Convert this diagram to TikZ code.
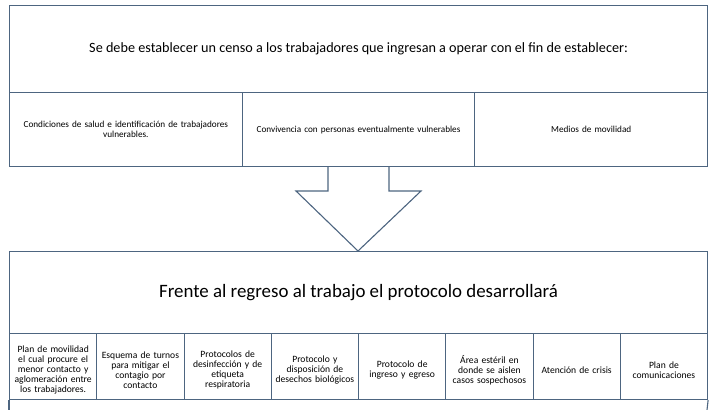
\documentclass[tikz,border=0pt]{standalone}
\usepackage{fontspec}
\setmainfont{Carlito}
\definecolor{edge}{HTML}{4D6580}
\begin{document}
\begin{tikzpicture}[x=1pt,y=-1pt,
  cell/.style={draw=edge,line width=1.1pt,rectangle,inner sep=0pt,anchor=north west,align=center},
  small/.style={font=\fontsize{9.2}{9.5}\selectfont},
  tiny/.style={font=\fontsize{9.6}{10}\selectfont},
  blockarrow/.style={draw=edge,line width=1.1pt,line join=miter}]
\useasboundingbox (0,0) rectangle (713,410);
% top box
\node[cell,minimum width=698pt,minimum height=87pt,font=\fontsize{14.2}{17}\selectfont] (title) at (9,5) {Se debe establecer un censo a los trabajadores que ingresan a operar con el fin de establecer:};
\node[cell,small,minimum width=232.67pt,minimum height=74pt,text width=225pt] (t1) at (9,92) {Condiciones de salud e identificación de trabajadores\\vulnerables.};
\node[cell,small,minimum width=232.67pt,minimum height=74pt,text width=225pt] (t2) at (241.67,92) {Convivencia con personas eventualmente vulnerables};
\node[cell,small,minimum width=232.67pt,minimum height=74pt,text width=225pt] (t3) at (474.33,92) {Medios de movilidad};
% bottom box
\node[cell,minimum width=698pt,minimum height=82pt,font=\fontsize{18.9}{22}\selectfont] (head) at (9,251) {Frente al regreso al trabajo el protocolo desarrollará};
\foreach \i/\txt in {0/{Plan de movilidad\\el cual procure el\\menor contacto y\\aglomeración entre\\los trabajadores.},
  1/{Esquema de turnos\\para mitigar el\\contagio por\\contacto},
  2/{Protocolos de\\desinfección y de\\etiqueta\\respiratoria},
  3/{Protocolo y\\disposición de\\desechos biológicos},
  4/{Protocolo de\\ingreso y egreso},
  5/{Área estéril en\\donde se aislen\\casos sospechosos},
  6/{Atención de crisis},
  7/{Plan de\\comunicaciones}}{
  \node[cell,minimum width=87.25pt,minimum height=66pt,
    label={[tiny,align=center,text width=86pt,inner sep=0pt,yshift=-3.5pt]center:{\txt}}] (b\i) at ({9+87.25*\i},333) {};
}
% continuation of next box below
\coordinate (nl) at (9,410);
\coordinate (nr) at (707,410);
\draw[draw=edge,line width=1.1pt] (b0.south west) -- (nl);
\draw[draw=edge,line width=1.1pt] (b7.south east) -- (nr);
% block arrow
\coordinate (s1) at (328,166);
\coordinate (s2) at (328,191);
\coordinate (h1) at (296,191);
\coordinate (tip) at (358,251);
\coordinate (h2) at (421,191);
\coordinate (s3) at (389,191);
\coordinate (s4) at (389,166);
\draw[blockarrow] (s1) -- (s2) -- (h1) -- (tip) -- (h2) -- (s3) -- (s4);
\end{tikzpicture}
\end{document}
